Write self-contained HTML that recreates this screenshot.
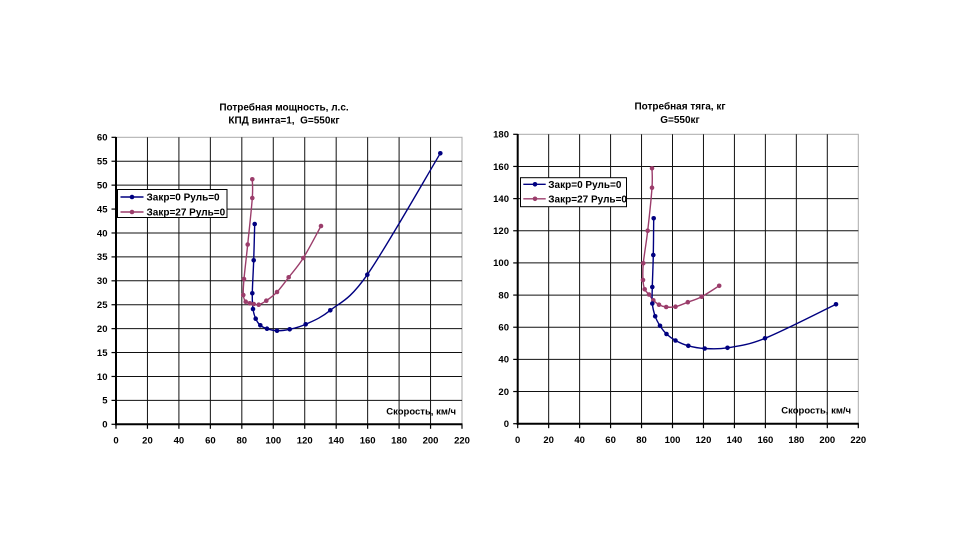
<!DOCTYPE html>
<html><head><meta charset="utf-8"><style>
html,body{margin:0;padding:0;background:#fff;}
svg{display:block;}
text{font-family:"Liberation Sans","DejaVu Sans",sans-serif;font-weight:bold;fill:#000;}
.g{stroke:#111;stroke-width:1;fill:none;}
.b{stroke:#aaa;stroke-width:1;fill:none;}
.ax{stroke:#000;stroke-width:2;fill:none;}
.tk{stroke:#000;stroke-width:1.2;fill:none;}
.t9{font-size:9.5px;}
.t10{font-size:10px;}
.ti{font-size:10px;}
.sb{stroke:#000080;stroke-width:1.4;fill:none;}
.sr{stroke:#9B3D6B;stroke-width:1.4;fill:none;}
.mb circle{fill:#000080;}
.mr circle{fill:#9B3D6B;}
</style></head><body>
<svg id="s" width="960" height="540" viewBox="0 0 960 540" xmlns="http://www.w3.org/2000/svg">
<rect width="960" height="540" fill="#fff"/>

<!-- ================= LEFT CHART ================= -->
<text class="ti" x="284" y="110.5" text-anchor="middle">Потребная мощность, л.с.</text>
<text class="ti" x="284" y="123.5" text-anchor="middle">КПД винта=1,&#160; G=550кг</text>

<rect x="116" y="137.3" width="346" height="287" fill="#fff" class="b"/>
<g class="g">
<line x1="147.45" y1="137.3" x2="147.45" y2="424.3"/>
<line x1="178.91" y1="137.3" x2="178.91" y2="424.3"/>
<line x1="210.36" y1="137.3" x2="210.36" y2="424.3"/>
<line x1="241.82" y1="137.3" x2="241.82" y2="424.3"/>
<line x1="273.27" y1="137.3" x2="273.27" y2="424.3"/>
<line x1="304.73" y1="137.3" x2="304.73" y2="424.3"/>
<line x1="336.18" y1="137.3" x2="336.18" y2="424.3"/>
<line x1="367.64" y1="137.3" x2="367.64" y2="424.3"/>
<line x1="399.09" y1="137.3" x2="399.09" y2="424.3"/>
<line x1="430.55" y1="137.3" x2="430.55" y2="424.3"/>
<line x1="116" y1="400.39" x2="462" y2="400.39"/>
<line x1="116" y1="376.47" x2="462" y2="376.47"/>
<line x1="116" y1="352.56" x2="462" y2="352.56"/>
<line x1="116" y1="328.64" x2="462" y2="328.64"/>
<line x1="116" y1="304.73" x2="462" y2="304.73"/>
<line x1="116" y1="280.81" x2="462" y2="280.81"/>
<line x1="116" y1="256.9" x2="462" y2="256.9"/>
<line x1="116" y1="232.98" x2="462" y2="232.98"/>
<line x1="116" y1="209.07" x2="462" y2="209.07"/>
<line x1="116" y1="185.15" x2="462" y2="185.15"/>
<line x1="116" y1="161.24" x2="462" y2="161.24"/>
</g>
<g class="tk">
<line x1="111.5" y1="424.3" x2="116" y2="424.3"/><line x1="111.5" y1="400.39" x2="116" y2="400.39"/>
<line x1="111.5" y1="376.47" x2="116" y2="376.47"/><line x1="111.5" y1="352.56" x2="116" y2="352.56"/>
<line x1="111.5" y1="328.64" x2="116" y2="328.64"/><line x1="111.5" y1="304.73" x2="116" y2="304.73"/>
<line x1="111.5" y1="280.81" x2="116" y2="280.81"/><line x1="111.5" y1="256.9" x2="116" y2="256.9"/>
<line x1="111.5" y1="232.98" x2="116" y2="232.98"/><line x1="111.5" y1="209.07" x2="116" y2="209.07"/>
<line x1="111.5" y1="185.15" x2="116" y2="185.15"/><line x1="111.5" y1="161.24" x2="116" y2="161.24"/>
<line x1="111.5" y1="137.32" x2="116" y2="137.32"/>
<line x1="116" y1="424.3" x2="116" y2="428.8"/><line x1="147.45" y1="424.3" x2="147.45" y2="428.8"/>
<line x1="178.91" y1="424.3" x2="178.91" y2="428.8"/><line x1="210.36" y1="424.3" x2="210.36" y2="428.8"/>
<line x1="241.82" y1="424.3" x2="241.82" y2="428.8"/><line x1="273.27" y1="424.3" x2="273.27" y2="428.8"/>
<line x1="304.73" y1="424.3" x2="304.73" y2="428.8"/><line x1="336.18" y1="424.3" x2="336.18" y2="428.8"/>
<line x1="367.64" y1="424.3" x2="367.64" y2="428.8"/><line x1="399.09" y1="424.3" x2="399.09" y2="428.8"/>
<line x1="430.55" y1="424.3" x2="430.55" y2="428.8"/><line x1="462" y1="424.3" x2="462" y2="428.8"/>
</g>
<line class="ax" x1="116" y1="137" x2="116" y2="425.3"/>
<line class="ax" x1="115" y1="424.3" x2="462.5" y2="424.3"/>

<g class="t9" text-anchor="end">
<text x="107.5" y="427.6">0</text><text x="107.5" y="403.7">5</text>
<text x="107.5" y="379.8">10</text><text x="107.5" y="355.9">15</text>
<text x="107.5" y="332">20</text><text x="107.5" y="308">25</text>
<text x="107.5" y="284.1">30</text><text x="107.5" y="260.2">35</text>
<text x="107.5" y="236.3">40</text><text x="107.5" y="212.4">45</text>
<text x="107.5" y="188.5">50</text><text x="107.5" y="164.5">55</text>
<text x="107.5" y="140.6">60</text>
</g>
<g class="t9" text-anchor="middle">
<text x="116" y="443.5">0</text><text x="147.45" y="443.5">20</text>
<text x="178.91" y="443.5">40</text><text x="210.36" y="443.5">60</text>
<text x="241.82" y="443.5">80</text><text x="273.27" y="443.5">100</text>
<text x="304.73" y="443.5">120</text><text x="336.18" y="443.5">140</text>
<text x="367.64" y="443.5">160</text><text x="399.09" y="443.5">180</text>
<text x="430.55" y="443.5">200</text><text x="462" y="443.5">220</text>
</g>
<text class="t9" x="456" y="414.5" text-anchor="end">Скорость, км/ч</text>

<path id="pR1" class="sr" d="M252.3,179.3 L252.3,198 L247.7,244.5 L244,279 L243.3,295 L245.7,301.7 L249.7,303.3 L253.7,304 L258.7,304.7 L266.3,300.7 L277,292 L288.7,277.3 L303.3,258 L321,226"/>
<path id="pB1" class="sb" d="M254.7,224 L253.7,260.3 L252.3,293.3 L253,309 L255.7,318.7 L260.3,325.3 L267,328.7 L277,330.7 L289.7,329.3 L305.7,324.3 L330.3,310.3 L367.3,274.7 L440.3,153.3"/>
<g class="mr">
<circle cx="252.3" cy="179.3" r="2.3"/><circle cx="252.3" cy="198" r="2.3"/><circle cx="247.7" cy="244.5" r="2.3"/>
<circle cx="244" cy="279" r="2.3"/><circle cx="243.3" cy="295" r="2.3"/><circle cx="245.7" cy="301.7" r="2.3"/>
<circle cx="249.7" cy="303.3" r="2.3"/><circle cx="253.7" cy="304" r="2.3"/><circle cx="258.7" cy="304.7" r="2.3"/>
<circle cx="266.3" cy="300.7" r="2.3"/><circle cx="277" cy="292" r="2.3"/><circle cx="288.7" cy="277.3" r="2.3"/>
<circle cx="303.3" cy="258" r="2.3"/><circle cx="321" cy="226" r="2.3"/>
</g>
<g class="mb">
<circle cx="254.7" cy="224" r="2.3"/><circle cx="253.7" cy="260.3" r="2.3"/><circle cx="252.3" cy="293.3" r="2.3"/>
<circle cx="253" cy="309" r="2.3"/><circle cx="255.7" cy="318.7" r="2.3"/><circle cx="260.3" cy="325.3" r="2.3"/>
<circle cx="267" cy="328.7" r="2.3"/><circle cx="277" cy="330.7" r="2.3"/><circle cx="289.7" cy="329.3" r="2.3"/>
<circle cx="305.7" cy="324.3" r="2.3"/><circle cx="330.3" cy="310.3" r="2.3"/><circle cx="367.3" cy="274.7" r="2.3"/>
<circle cx="440.3" cy="153.3" r="2.3"/>
</g>

<rect x="117.5" y="189.5" width="109.5" height="28" fill="#fff" stroke="#000" stroke-width="1"/>
<line class="sb" x1="120.5" y1="197" x2="143.5" y2="197"/>
<circle cx="132" cy="197" r="2.3" fill="#000080"/>
<text class="t10" x="146.5" y="200.5">Закр=0 Руль=0</text>
<line class="sr" x1="120.5" y1="212" x2="143.5" y2="212"/>
<circle cx="132" cy="212" r="2.3" fill="#9B3D6B"/>
<text class="t10" x="146.5" y="215.5">Закр=27 Руль=0</text>

<!-- ================= RIGHT CHART ================= -->
<text class="ti" x="680" y="109.5" text-anchor="middle">Потребная тяга, кг</text>
<text class="ti" x="680" y="123" text-anchor="middle">G=550кг</text>

<rect x="517.7" y="134.3" width="340.6" height="289.4" fill="#fff" class="b"/>
<g class="g">
<line x1="548.66" y1="134.3" x2="548.66" y2="423.7"/>
<line x1="579.62" y1="134.3" x2="579.62" y2="423.7"/>
<line x1="610.58" y1="134.3" x2="610.58" y2="423.7"/>
<line x1="641.54" y1="134.3" x2="641.54" y2="423.7"/>
<line x1="672.5" y1="134.3" x2="672.5" y2="423.7"/>
<line x1="703.46" y1="134.3" x2="703.46" y2="423.7"/>
<line x1="734.42" y1="134.3" x2="734.42" y2="423.7"/>
<line x1="765.38" y1="134.3" x2="765.38" y2="423.7"/>
<line x1="796.34" y1="134.3" x2="796.34" y2="423.7"/>
<line x1="827.3" y1="134.3" x2="827.3" y2="423.7"/>
<line x1="517.7" y1="391.54" x2="858.3" y2="391.54"/>
<line x1="517.7" y1="359.39" x2="858.3" y2="359.39"/>
<line x1="517.7" y1="327.23" x2="858.3" y2="327.23"/>
<line x1="517.7" y1="295.08" x2="858.3" y2="295.08"/>
<line x1="517.7" y1="262.92" x2="858.3" y2="262.92"/>
<line x1="517.7" y1="230.76" x2="858.3" y2="230.76"/>
<line x1="517.7" y1="198.61" x2="858.3" y2="198.61"/>
<line x1="517.7" y1="166.45" x2="858.3" y2="166.45"/>
</g>
<g class="tk">
<line x1="513.2" y1="423.7" x2="517.7" y2="423.7"/><line x1="513.2" y1="391.54" x2="517.7" y2="391.54"/>
<line x1="513.2" y1="359.39" x2="517.7" y2="359.39"/><line x1="513.2" y1="327.23" x2="517.7" y2="327.23"/>
<line x1="513.2" y1="295.08" x2="517.7" y2="295.08"/><line x1="513.2" y1="262.92" x2="517.7" y2="262.92"/>
<line x1="513.2" y1="230.76" x2="517.7" y2="230.76"/><line x1="513.2" y1="198.61" x2="517.7" y2="198.61"/>
<line x1="513.2" y1="166.45" x2="517.7" y2="166.45"/><line x1="513.2" y1="134.3" x2="517.7" y2="134.3"/>
<line x1="517.7" y1="423.7" x2="517.7" y2="428.2"/><line x1="548.66" y1="423.7" x2="548.66" y2="428.2"/>
<line x1="579.62" y1="423.7" x2="579.62" y2="428.2"/><line x1="610.58" y1="423.7" x2="610.58" y2="428.2"/>
<line x1="641.54" y1="423.7" x2="641.54" y2="428.2"/><line x1="672.5" y1="423.7" x2="672.5" y2="428.2"/>
<line x1="703.46" y1="423.7" x2="703.46" y2="428.2"/><line x1="734.42" y1="423.7" x2="734.42" y2="428.2"/>
<line x1="765.38" y1="423.7" x2="765.38" y2="428.2"/><line x1="796.34" y1="423.7" x2="796.34" y2="428.2"/>
<line x1="827.3" y1="423.7" x2="827.3" y2="428.2"/><line x1="858.3" y1="423.7" x2="858.3" y2="428.2"/>
</g>
<line class="ax" x1="517.7" y1="134" x2="517.7" y2="424.7"/>
<line class="ax" x1="516.7" y1="423.7" x2="858.8" y2="423.7"/>

<g class="t9" text-anchor="end">
<text x="509" y="427">0</text><text x="509" y="394.8">20</text>
<text x="509" y="362.7">40</text><text x="509" y="330.5">60</text>
<text x="509" y="298.4">80</text><text x="509" y="266.2">100</text>
<text x="509" y="234.1">120</text><text x="509" y="201.9">140</text>
<text x="509" y="169.8">160</text><text x="509" y="137.6">180</text>
</g>
<g class="t9" text-anchor="middle">
<text x="517.7" y="443">0</text><text x="548.66" y="443">20</text>
<text x="579.62" y="443">40</text><text x="610.58" y="443">60</text>
<text x="641.54" y="443">80</text><text x="672.5" y="443">100</text>
<text x="703.46" y="443">120</text><text x="734.42" y="443">140</text>
<text x="765.38" y="443">160</text><text x="796.34" y="443">180</text>
<text x="827.3" y="443">200</text><text x="858.3" y="443">220</text>
</g>
<text class="t9" x="851" y="413.5" text-anchor="end">Скорость, км/ч</text>

<path id="pR2" class="sr" d="M652,168.3 L652,187.7 L647.7,230.7 L643.3,263.3 L643,280 L644.7,289.3 L649,294.5 L653.3,300.3 L659,304.7 L666.2,307 L675.5,306.7 L687.8,302.2 L701.7,296.7 L719.2,285.8"/>
<path id="pB2" class="sb" d="M653.7,218.3 L653.3,255 L652.3,287 L652.3,303.5 L655.2,316.3 L660,325.8 L666.5,334 L675.5,340.5 L688.3,345.8 L704.7,348.5 L727.5,347.8 L765,338.3 L836,304.3"/>
<g class="mr">
<circle cx="652" cy="168.3" r="2.3"/><circle cx="652" cy="187.7" r="2.3"/><circle cx="647.7" cy="230.7" r="2.3"/>
<circle cx="643.3" cy="263.3" r="2.3"/><circle cx="643" cy="280" r="2.3"/><circle cx="644.7" cy="289.3" r="2.3"/>
<circle cx="649" cy="294.5" r="2.3"/><circle cx="653.3" cy="300.3" r="2.3"/><circle cx="659" cy="304.7" r="2.3"/>
<circle cx="666.2" cy="307" r="2.3"/><circle cx="675.5" cy="306.7" r="2.3"/><circle cx="687.8" cy="302.2" r="2.3"/>
<circle cx="701.7" cy="296.7" r="2.3"/><circle cx="719.2" cy="285.8" r="2.3"/>
</g>
<g class="mb">
<circle cx="653.7" cy="218.3" r="2.3"/><circle cx="653.3" cy="255" r="2.3"/><circle cx="652.3" cy="287" r="2.3"/>
<circle cx="652.3" cy="303.5" r="2.3"/><circle cx="655.2" cy="316.3" r="2.3"/><circle cx="660" cy="325.8" r="2.3"/>
<circle cx="666.5" cy="334" r="2.3"/><circle cx="675.5" cy="340.5" r="2.3"/><circle cx="688.3" cy="345.8" r="2.3"/>
<circle cx="704.7" cy="348.5" r="2.3"/><circle cx="727.5" cy="347.8" r="2.3"/><circle cx="765" cy="338.3" r="2.3"/>
<circle cx="836" cy="304.3" r="2.3"/>
</g>

<rect x="520.5" y="177.7" width="106" height="29" fill="#fff" stroke="#000" stroke-width="1"/>
<line class="sb" x1="523.3" y1="184.3" x2="545.7" y2="184.3"/>
<circle cx="535" cy="184.3" r="2.3" fill="#000080"/>
<text class="t10" x="548.3" y="187.8">Закр=0 Руль=0</text>
<line class="sr" x1="523.3" y1="198.8" x2="545.7" y2="198.8"/>
<circle cx="535" cy="198.8" r="2.3" fill="#9B3D6B"/>
<text class="t10" x="548.3" y="202.3">Закр=27 Руль=0</text>
</svg>
<script>
(function(){
  function smooth(id){
    var el=document.getElementById(id);
    if(!el) return;
    var d=el.getAttribute('d');
    var nums=d.replace(/[ML]/g,' ').trim().split(/[\s,]+/).map(Number);
    var p=[];
    for(var i=0;i<nums.length;i+=2)p.push([nums[i],nums[i+1]]);
    var s='M'+p[0][0]+','+p[0][1];
    for(var i=0;i<p.length-1;i++){
      var p0=p[i-1]||p[i], p1=p[i], p2=p[i+1], p3=p[i+2]||p[i+1];
      var c1x=p1[0]+(p2[0]-p0[0])/6, c1y=p1[1]+(p2[1]-p0[1])/6;
      var c2x=p2[0]-(p3[0]-p1[0])/6, c2y=p2[1]-(p3[1]-p1[1])/6;
      s+=' C'+c1x.toFixed(2)+','+c1y.toFixed(2)+' '+c2x.toFixed(2)+','+c2y.toFixed(2)+' '+p2[0]+','+p2[1];
    }
    el.setAttribute('d',s);
  }
  ['pR1','pB1','pR2','pB2'].forEach(smooth);
})();
</script>
</body></html>
